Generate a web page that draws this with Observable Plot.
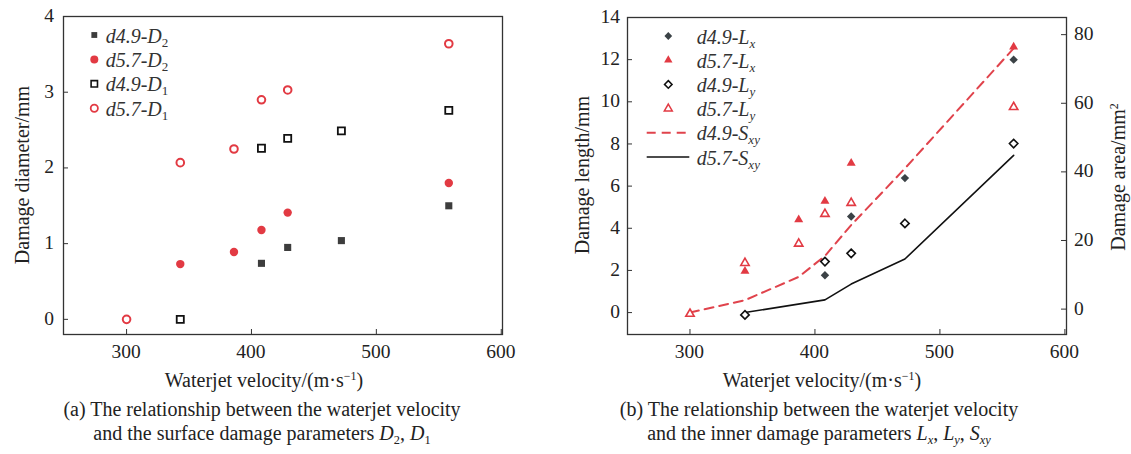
<!DOCTYPE html>
<html><head><meta charset="utf-8">
<script src="https://cdn.jsdelivr.net/npm/d3@7"></script>
<script src="https://cdn.jsdelivr.net/npm/@observablehq/plot@0.6"></script>
<style>
body{margin:0;background:#fff;}
#wrap{position:relative;width:1131px;height:454px;font-family:"Liberation Serif","Times New Roman",serif;color:#222;overflow:hidden;}
.panel{position:absolute;top:0;width:566px;height:400px;}
.lab{position:absolute;white-space:nowrap;line-height:1.107;color:#222;}
.lab sub{font-size:0.65em;vertical-align:-0.28em;line-height:0;}
.lab sub.n{font-style:normal;}
.lab sup{font-size:0.6em;vertical-align:0.55em;line-height:0;}
.cap{position:absolute;top:398px;font-size:20px;line-height:23.5px;text-align:center;white-space:nowrap;}
.cap sub{font-size:0.62em;vertical-align:-0.3em;line-height:0;}
</style></head><body>
<div id="wrap">
<div id="pa" class="panel" style="left:0"></div>
<div id="pb" class="panel" style="left:565px"></div>
<div class="cap" style="left:0;width:524px">(a) The relationship between the waterjet velocity<br>and the surface damage parameters <i>D</i><sub>2</sub>, <i>D</i><sub>1</sub></div>
<div class="cap" style="left:539px;width:560px">(b) The relationship between the waterjet velocity<br>and the inner damage parameters <i>L</i><sub><i>x</i></sub>, <i>L</i><sub><i>y</i></sub>, <i>S</i><sub><i>xy</i></sub></div>
</div>
<script>
// ---------- data: chart (a) ----------
const xTicks = [300, 400, 500, 600];
const yTicksA = [0, 1, 2, 3, 4];
const d49D2_v = [408, 429, 472, 558];
const d49D2_y = [0.74, 0.95, 1.04, 1.50];
const d57D2_v = [343, 386, 408, 429, 558];
const d57D2_y = [0.73, 0.89, 1.18, 1.41, 1.80];
const d49D1_v = [343, 408, 429, 472, 558];
const d49D1_y = [0.00, 2.26, 2.39, 2.49, 2.76];
const d57D1_v = [300, 343, 386, 408, 429, 558];
const d57D1_y = [0.00, 2.07, 2.25, 2.90, 3.03, 3.64];

// ---------- data: chart (b) ----------
const lenTicks = [0, 2, 4, 6, 8, 10, 12, 14];
const areaTicks = [0, 20, 40, 60, 80];
const d49Lx_v = [408, 429, 472, 559];
const d49Lx_y = [1.77, 4.56, 6.38, 12.0];
const d57Lx_v = [344, 387, 408, 429, 559];
const d57Lx_y = [1.96, 4.41, 5.29, 7.09, 12.6];
const d49Ly_v = [344, 408, 429, 472, 559];
const d49Ly_y = [-0.11, 2.42, 2.81, 4.23, 8.02];
const d57Ly_v = [300, 344, 387, 408, 429, 559];
const d57Ly_y = [-0.06, 2.35, 3.27, 4.68, 5.20, 9.75];
const d49Sxy_v = [300, 344, 387, 408, 429, 472, 559];
const d49Sxy_a = [-1.0, 2.6, 9.4, 15.5, 24.5, 41.0, 76.0];
const d57Sxy_v = [344, 408, 429, 472, 559];
const d57Sxy_a = [-1.0, 2.7, 7.3, 14.6, 44.8];

const RED = "#e23a43", DARK = "#3d3d3d", DIAM = "#3b4246";
const H = 400, TICKFS = 19.5, LABFS = 20, ASC = 0.891;
const zip = (v, y) => v.map((x, i) => ({x, y: y[i]}));

// HTML text helper: anchor "start" | "middle" | "end"; y is the baseline
function lab(panel, html, x, baseline, fs, anchor, extra) {
  const d = document.createElement("div");
  d.className = "lab";
  d.innerHTML = html;
  d.style.fontSize = fs + "px";
  d.style.left = x + "px";
  d.style.top = (baseline - ASC * fs) + "px";
  d.style.transform = anchor === "middle" ? "translateX(-50%)" : anchor === "end" ? "translateX(-100%)" : "none";
  if (extra) Object.assign(d.style, extra);
  panel.append(d);
}
// rotated (-90deg) label centred at (cx, cy)
function vlab(panel, html, cx, cy, fs) {
  const d = document.createElement("div");
  d.className = "lab";
  d.innerHTML = html;
  d.style.fontSize = fs + "px";
  d.style.left = cx + "px";
  d.style.top = cy + "px";
  d.style.transform = "translate(-50%,-50%) rotate(-90deg)";
  panel.append(d);
}
function legend(panel, svg, entries, opt) {
  const g = d3.select(svg).append("g");
  entries.forEach((e, i) => {
    const cy = opt.y0 + i * opt.step;
    if (e.line) {
      g.append("line").attr("x1", opt.lx1).attr("x2", opt.lx2).attr("y1", cy).attr("y2", cy)
        .attr("stroke", e.stroke).attr("stroke-width", e.sw).attr("stroke-dasharray", e.dash || null);
    } else {
      g.append("path").attr("transform", `translate(${opt.sx},${cy})`)
        .attr("d", d3.symbol(e.sym, Math.PI * e.r * e.r)())
        .attr("fill", e.fill).attr("stroke", e.stroke).attr("stroke-width", e.sw || 1);
    }
    const cls = /^\d+$/.test(e.sub) ? ' class="n"' : "";
    lab(panel, `<i>${e.main}<sub${cls}>${e.sub}</sub></i>`, opt.tx, cy + 7.5, 20, "start", {color: "#333"});
  });
}

// ---------- chart (a) ----------
{
  const panel = document.getElementById("pa");
  const W = 565, mL = 63, mR = 63, mT = 16, mB = H - 334;
  const fw = W - mL - mR, fh = H - mT - mB;
  const plot = Plot.plot({
    width: W, height: H, marginLeft: mL, marginRight: mR, marginTop: mT, marginBottom: mB,
    style: {background: "white"},
    x: {domain: [249.5, 601], axis: null},
    y: {domain: [-0.2, 4], axis: null},
    marks: [
      Plot.frame({stroke: "#333", strokeWidth: 1.3}),
      Plot.tickY(yTicksA, {y: d => d, insetRight: fw - 5, stroke: "#333"}),
      Plot.tickX(xTicks, {x: d => d, insetTop: fh - 5, stroke: "#333"}),
      Plot.dot(zip(d49D1_v, d49D1_y), {x: "x", y: "y", symbol: "square", r: 4, fill: "white", stroke: "#111", strokeWidth: 1.8}),
      Plot.dot(zip(d57D1_v, d57D1_y), {x: "x", y: "y", symbol: "circle", r: 3.8, fill: "white", stroke: RED, strokeWidth: 2}),
      Plot.dot(zip(d49D2_v, d49D2_y), {x: "x", y: "y", symbol: "square", r: 4, fill: DARK, stroke: "none"}),
      Plot.dot(zip(d57D2_v, d57D2_y), {x: "x", y: "y", symbol: "circle", r: 4.2, fill: RED, stroke: "none"})
    ]
  });
  panel.append(plot);
  const sx = plot.scale("x"), sy = plot.scale("y");
  for (const v of xTicks) lab(panel, String(v), sx.apply(v), 358, TICKFS, "middle");
  for (const v of yTicksA) lab(panel, String(v), mL - 9, sy.apply(v) + 0.33 * TICKFS, TICKFS, "end");
  lab(panel, "Waterjet velocity/(m·s<sup>−1</sup>)", 264, 386.7, LABFS, "middle");
  vlab(panel, "Damage diameter/mm", 22, 175, LABFS);
  legend(panel, plot, [
    {sym: d3.symbolSquare, r: 3.3, fill: DARK, stroke: "none", main: "d4.9-D", sub: "2"},
    {sym: d3.symbolCircle, r: 4, fill: RED, stroke: "none", main: "d5.7-D", sub: "2"},
    {sym: d3.symbolSquare, r: 3.6, fill: "white", stroke: "#111", sw: 1.6, main: "d4.9-D", sub: "1"},
    {sym: d3.symbolCircle, r: 3.6, fill: "white", stroke: RED, sw: 1.8, main: "d5.7-D", sub: "1"}
  ], {y0: 35, step: 24.4, sx: 94.3, tx: 105.7});
}

// ---------- chart (b) ----------
{
  const panel = document.getElementById("pb");
  const W = 566, mL = 62, mR = 65, mT = 17, mB = H - 334;
  const fw = W - mL - mR, fh = H - mT - mB;
  const lenDom = [-1.04, 14], areaDom = [-7.4, 85];
  const a2l = a => lenDom[0] + (a - areaDom[0]) * (lenDom[1] - lenDom[0]) / (areaDom[1] - areaDom[0]);
  const plot = Plot.plot({
    width: W, height: H, marginLeft: mL, marginRight: mR, marginTop: mT, marginBottom: mB,
    style: {background: "white"},
    x: {domain: [250, 601.3], axis: null},
    y: {domain: lenDom, axis: null},
    marks: [
      Plot.frame({stroke: "#333", strokeWidth: 1.3}),
      Plot.tickY(lenTicks, {y: d => d, insetRight: fw - 5, stroke: "#333"}),
      Plot.tickY(areaTicks, {y: a2l, insetLeft: fw - 5, stroke: "#333"}),
      Plot.tickX(xTicks, {x: d => d, insetTop: fh - 5, stroke: "#333"}),
      Plot.line(zip(d49Sxy_v, d49Sxy_a), {x: "x", y: d => a2l(d.y), stroke: "#e0434c", strokeWidth: 2, strokeDasharray: "9,6"}),
      Plot.line(zip(d57Sxy_v, d57Sxy_a), {x: "x", y: d => a2l(d.y), stroke: "#111", strokeWidth: 1.6}),
      Plot.dot(zip(d49Ly_v, d49Ly_y), {x: "x", y: "y", symbol: "diamond2", r: 3.8, fill: "white", stroke: "#111", strokeWidth: 1.6}),
      Plot.dot(zip(d57Ly_v, d57Ly_y), {x: "x", y: "y", symbol: "triangle2", r: 4, fill: "white", stroke: RED, strokeWidth: 1.6}),
      Plot.dot(zip(d49Lx_v, d49Lx_y), {x: "x", y: "y", symbol: "diamond2", r: 3.8, fill: DIAM, stroke: "none"}),
      Plot.dot(zip(d57Lx_v, d57Lx_y), {x: "x", y: "y", symbol: "triangle2", r: 4.3, fill: RED, stroke: "none"})
    ]
  });
  panel.append(plot);
  const sx = plot.scale("x"), sy = plot.scale("y");
  for (const v of xTicks) lab(panel, String(v), sx.apply(v), 358, TICKFS, "middle");
  for (const v of lenTicks) lab(panel, String(v), mL - 7, sy.apply(v) + 0.33 * TICKFS, TICKFS, "end");
  for (const v of areaTicks) lab(panel, String(v), W - mR + 8, sy.apply(a2l(v)) + 0.33 * TICKFS, TICKFS, "start");
  lab(panel, "Waterjet velocity/(m·s<sup>−1</sup>)", 257, 386.7, LABFS, "middle");
  vlab(panel, "Damage length/mm", 17, 175, LABFS);
  vlab(panel, "Damage area/mm<sup>2</sup>", 553, 177, LABFS);
  legend(panel, plot, [
    {sym: d3.symbolDiamond2, r: 3.5, fill: DIAM, stroke: "none", main: "d4.9-L", sub: "x"},
    {sym: d3.symbolTriangle2, r: 4, fill: RED, stroke: "none", main: "d5.7-L", sub: "x"},
    {sym: d3.symbolDiamond2, r: 3.4, fill: "white", stroke: "#111", sw: 1.5, main: "d4.9-L", sub: "y"},
    {sym: d3.symbolTriangle2, r: 3.8, fill: "white", stroke: RED, sw: 1.5, main: "d5.7-L", sub: "y"},
    {line: true, stroke: "#e0434c", sw: 2, dash: "9,6", main: "d4.9-S", sub: "xy"},
    {line: true, stroke: "#111", sw: 1.6, main: "d5.7-S", sub: "xy"}
  ], {y0: 36, step: 24.2, sx: 103.3, tx: 131.7, lx1: 81.7, lx2: 124.3});
}
</script>
</body></html>
